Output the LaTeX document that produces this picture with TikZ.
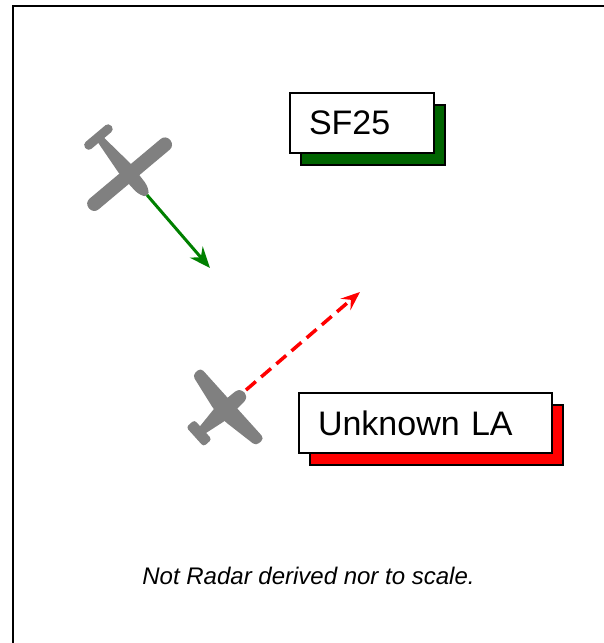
\documentclass[tikz,border=0pt]{standalone}
\usepackage{fontspec}
\setmainfont{Liberation Sans}
\usetikzlibrary{arrows.meta,shadows}
\definecolor{sfgreen}{RGB}{0,100,0}
\definecolor{arrowgreen}{RGB}{0,128,0}
\definecolor{planegray}{RGB}{128,128,128}
\tikzset{
  labelbox/.style={draw=black, line width=1.2pt, fill=white, align=left,
    inner xsep=19pt, inner ysep=0pt, minimum height=60pt,
    font=\fontsize{34}{40}\selectfont},
  greenshadow/.style={drop shadow={shadow xshift=11pt, shadow yshift=-12pt,
    fill=sfgreen, draw=black, line width=1.2pt, opacity=1}},
  redshadow/.style={drop shadow={shadow xshift=11pt, shadow yshift=-12pt,
    fill=red, draw=black, line width=1.2pt, opacity=1}},
  glider/.pic={
    \fill[planegray, rounded corners=6.5pt] (-7,-53) rectangle (7,53);
    \fill[planegray, rounded corners=4pt] (-53,-17) rectangle (-44,17);
    \fill[planegray] (-48,-3.5) -- (-8,-7.5) -- (16,-6.5)
      .. controls (21,-6) and (25,-4) .. (26.5,-2.5)
      .. controls (27.5,-1) and (27.5,1) .. (26.5,2.5)
      .. controls (25,4) and (21,6) .. (16,6.5) -- (-8,7.5) -- (-48,3.5) -- cycle;
  },
  cessna/.pic={
    \fill[planegray, rounded corners=4pt] (8,-47.5) -- (8,47.5) -- (-3,47.5) -- (-10,8)
      -- (-10,-8) -- (-3,-47.5) -- cycle;
    \fill[planegray, rounded corners=3pt] (-42.5,-13) rectangle (-31.5,13);
    \fill[planegray] (-38,-3.5) -- (-10,-8) -- (14,-7)
      .. controls (19,-7) and (22,-6) .. (23,-3.5)
      .. controls (24.5,-1.5) and (24.5,1.5) .. (23,3.5)
      .. controls (22,6) and (19,7) .. (14,7) -- (-10,8) -- (-38,3.5) -- cycle;
  },
  greenvec/.style={draw=arrowgreen, line width=3pt,
    -{Stealth[length=21pt,width=17pt,inset=7pt]}},
  redvec/.style={draw=red, line width=3.5pt, dash pattern=on 13pt off 7pt,
    -{Stealth[length=19pt,width=15pt,inset=7pt]}},
  framepen/.style={draw=black, line width=2pt}
}
\begin{document}
\begin{tikzpicture}[x=1pt, y=1pt]
  \useasboundingbox (0,0) rectangle (603,643);
  % frame (cropped: only top and left edges visible)
  \coordinate (fbl) at (13,-2);
  \coordinate (ftl) at (13,637);
  \coordinate (ftr) at (605,637);
  \draw[framepen] (fbl) -- (ftl) -- (ftr);

  % aircraft
  \pic[rotate=-50] at (129.6,468.8) {glider};
  \pic[rotate=42] at (226.5,234.5) {cessna};

  % track vectors
  \coordinate (nose1) at (147,448);
  \coordinate (end1) at (210,375);
  \draw[greenvec] (nose1) -- (end1);
  \coordinate (nose2) at (246,253);
  \coordinate (end2) at (360,351);
  \draw[redvec] (nose2) -- (end2);

  % labels
  \node[labelbox, greenshadow, text width=106pt] (sf25) at (362,520) {SF25};
  \node[labelbox, redshadow, text width=215pt] (unk) at (425.5,220) {Unknown LA};

  \node[anchor=base, font=\fontsize{24}{28}\selectfont\itshape] (note) at (308.5,58)
    {Not Radar derived nor to scale.};
\end{tikzpicture}
\end{document}
